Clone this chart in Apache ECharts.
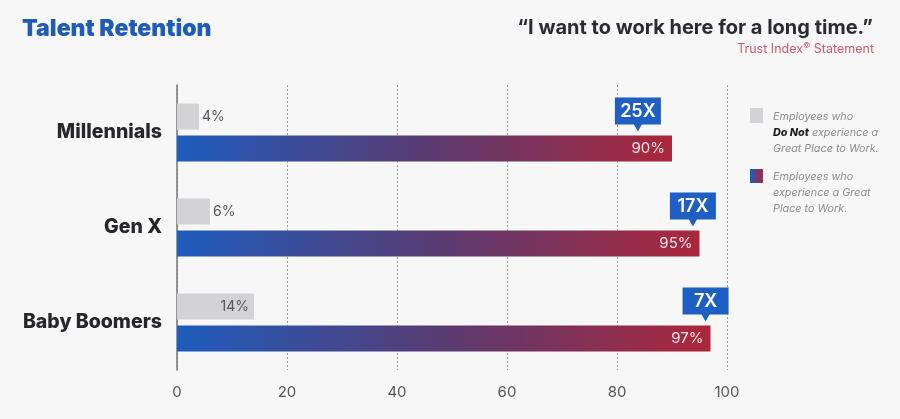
<!DOCTYPE html>
<html>
<head>
<meta charset="utf-8">
<script src="https://cdn.jsdelivr.net/npm/echarts@6/dist/echarts.min.js"></script>
<style>
  html, body { margin: 0; padding: 0; background: #f7f7f8; }
  #chart { width: 900px; height: 419px; }
</style>
</head>
<body>
<div id="chart"></div>
<script>
// ---- data ----
const categories = ['Millennials', 'Gen X', 'Baby Boomers'];
const notGreatValues = [4, 6, 14];      // Employees who do NOT experience a Great Place to Work (%)
const greatValues = [90, 95, 97];       // Employees who experience a Great Place to Work (%)
const multipliers = ['25X', '17X', '7X'];
const calloutAt = [83.8, 93.8, 96.1];   // x value where each callout points
const xTicks = [0, 20, 40, 60, 80, 100];

// ---- styles ----
const FONT = 'Inter, "Open Sans", "Noto Sans", sans-serif';
const barGradient = new echarts.graphic.LinearGradient(0, 0, 1, 0, [
  { offset: 0, color: '#1e5cbd' },
  { offset: 0.5, color: '#5a3b72' },
  { offset: 1, color: '#ab273b' }
]);

const chart = echarts.init(document.getElementById('chart'), null, { renderer: 'canvas' });

const calloutShape = 'path://M0,0 L46,0 L46,27 L27,27 L23,34 L19,27 L0,27 Z';

const option = {
  backgroundColor: '#f7f7f8',
  animation: false,
  title: [
    {
      text: 'Talent Retention',
      left: 22, top: 18, padding: 0,
      textStyle: { fontFamily: FONT, fontSize: 23, fontWeight: 900, color: '#1f5bbd' }
    },
    {
      text: '\u201CI want to work here for a long time.\u201D',
      right: 27, top: 18, padding: 0,
      textStyle: { fontFamily: FONT, fontSize: 20, fontWeight: 700, color: '#2b2b33' }
    },
    {
      text: 'Trust Index{sup|\u00A9} Statement',
      right: 26, top: 42, padding: 0,
      textStyle: {
        fontFamily: FONT, fontSize: 12.5, fontWeight: 400, color: '#d3566c',
        rich: { sup: { fontFamily: FONT, fontSize: 8, color: '#d3566c', verticalAlign: 'top', padding: [0, 0, 6, 0] } }
      }
    }
  ],
  grid: { left: 177, right: 173, top: 85, height: 285, containLabel: false },
  xAxis: {
    type: 'value', min: 0, max: 100, interval: 20,
    axisLine: { show: false },
    axisTick: { show: false },
    splitLine: { show: true, lineStyle: { type: [2, 2], color: '#9a9a9a', width: 1 } },
    axisLabel: {
      fontFamily: FONT, fontSize: 15, color: '#555', margin: 15,
      formatter: v => xTicks.includes(v) ? String(v) : ''
    }
  },
  yAxis: {
    type: 'category', data: categories, inverse: true,
    axisTick: { show: false },
    axisLine: { show: true, lineStyle: { color: '#777', width: 1.5 } },
    axisLabel: { fontFamily: FONT, fontSize: 19.5, fontWeight: 800, color: '#26262b', margin: 15 }
  },
  series: [
    {
      name: 'Do Not',
      type: 'bar',
      barWidth: 26, barGap: '23%',
      itemStyle: { color: '#d3d3d5' },
      data: notGreatValues.map(v => ({
        value: v,
        label: {
          show: true,
          position: v < 10 ? 'right' : 'insideRight',
          distance: v < 10 ? 3 : 5,
          formatter: '{c}%',
          fontFamily: FONT, fontSize: 14, color: '#555'
        }
      }))
    },
    {
      name: 'Great',
      type: 'bar',
      barWidth: 26,
      itemStyle: { color: barGradient },
      label: {
        show: true, position: 'insideRight', distance: 7,
        formatter: '{c}%', fontFamily: FONT, fontSize: 15, color: '#f4e3e6'
      },
      data: greatValues
    },
    {
      name: 'Callout',
      type: 'scatter',
      z: 5,
      symbol: calloutShape,
      symbolSize: [46, 34],
      symbolOffset: [0, -18],
      itemStyle: { color: '#1f5fc4', opacity: 1 },
      label: {
        show: true, position: 'inside', offset: [0, -3],
        formatter: p => multipliers[p.dataIndex],
        fontFamily: FONT, fontSize: 18, fontWeight: 600, color: '#ffffff'
      },
      data: calloutAt.map((x, i) => [x, categories[i]])
    }
  ],
  graphic: [
    { type: 'rect', left: 750, top: 108, shape: { width: 13, height: 15 }, style: { fill: '#d3d3d5' } },
    {
      type: 'text', left: 773, top: 109,
      style: {
        text: 'Employees who\n{b|Do Not} experience a\nGreat Place to Work.',
        fontFamily: FONT, fontSize: 10.8, fontStyle: 'italic', fill: '#8c8c8c', lineHeight: 16,
        rich: { b: { fontFamily: FONT, fontSize: 10.8, fontStyle: 'italic', fontWeight: 800, fill: '#222', lineHeight: 16 } }
      }
    },
    {
      type: 'rect', left: 750, top: 169, shape: { width: 13, height: 14 },
      style: { fill: new echarts.graphic.LinearGradient(0, 0, 1, 0, [{ offset: 0, color: '#1e5cbd' }, { offset: 1, color: '#ab273b' }]) }
    },
    {
      type: 'text', left: 773, top: 169,
      style: {
        text: 'Employees who\nexperience a Great\nPlace to Work.',
        fontFamily: FONT, fontSize: 10.8, fontStyle: 'italic', fill: '#8c8c8c', lineHeight: 16
      }
    }
  ]
};

chart.setOption(option);
</script>
</body>
</html>
